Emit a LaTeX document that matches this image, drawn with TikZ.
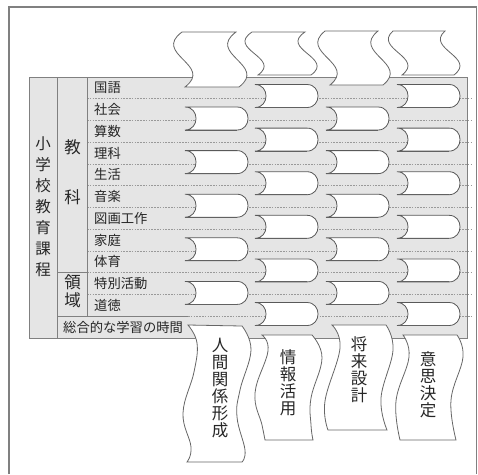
\documentclass[tikz,border=0pt]{standalone}
\usepackage{fontspec}
\newfontfamily\jp{Noto Sans CJK JP}
\newcommand\topflag[7]{%
  \pgfmathsetmacro\tfh{#4-#3}%
  \pgfmathsetmacro\tfya{#3+0.4*\tfh}%
  \pgfmathsetmacro\tfyb{#3+0.6*\tfh}%
  \pgfmathsetmacro\tfl{#1+#5}\pgfmathsetmacro\tfr{#2+#5}%
  \pgfmathsetmacro\tfla{#1+(#6)}\pgfmathsetmacro\tflb{#1+(#7)}%
  \pgfmathsetmacro\tfra{#2+(#6)}\pgfmathsetmacro\tfrb{#2+(#7)}%
  \filldraw[flag] (#1,#3) -- (#2,#3) .. controls (\tfra,\tfya) and (\tfrb,\tfyb) .. (\tfr,#4)
     -- (\tfl,#4) .. controls (\tflb,\tfyb) and (\tfla,\tfya) .. (#1,#3) -- cycle;}
\newcommand\tabshape[2]{%
  \pgfmathsetmacro\tbxa{#1}\pgfmathsetmacro\tbxb{#1+52}%
  \pgfmathsetmacro\tbya{#2}\pgfmathsetmacro\tbyb{#2+23}%
  \filldraw[tabbox] (\tbxa,\tbya) -- (\tbxb,\tbya) .. controls +(14.7,0) and +(14.7,0) .. (\tbxb,\tbyb)
     -- (\tbxa,\tbyb) .. controls +(14.7,0) and +(14.7,0) .. (\tbxa,\tbya) -- cycle;
  \draw[tabshadow] (\tbxa,\tbyb) -- (\tbxb,\tbyb);}
\begin{document}
\begin{tikzpicture}[x=1pt,y=-1pt,
  frame/.style={draw=black!50, line width=1.1pt},
  panel/.style={fill=black!10},
  cell/.style={draw=black!50, line width=0.7pt},
  rowline/.style={draw=black!40, line width=0.6pt, dash pattern=on 1.6pt off 1.2pt},
  tabbox/.style={fill=white, draw=black!65, line width=0.8pt},
  tabshadow/.style={draw=black!62, line width=1.0pt},
  flag/.style={fill=white, draw=black!60, line width=0.8pt},
  lab/.style={font=\jp\fontsize{13.3}{14}\selectfont, anchor=west, inner sep=0, text=black!85},
  bigA/.style={font=\jp\fontsize{15.5}{21}\selectfont, align=center, inner sep=0, text=black!85},
  bigB/.style={font=\jp\fontsize{16.5}{18}\selectfont, inner sep=0, text=black!85},
  vlab/.style={font=\jp\fontsize{16.5}{17}\selectfont, align=center, inner sep=0, text=black!85},
]
\useasboundingbox (0,0) rectangle (478,474);
\draw[frame] (9,474) -- (9,7) -- (476.5,7) -- (476.5,474);
% panel
\fill[panel] (29,77) rectangle (467,338);
\foreach \k in {1,...,10}{\draw[rowline] (87,{77+21.75*\k}) -- (471,{77+21.75*\k});}
\draw[rowline] (188,316.25) -- (471,316.25);
\draw[cell] (57,316.25) -- (188,316.25);
\draw[cell] (57,272.75) -- (87,272.75);
\draw[cell] (57,77) -- (57,338);
\draw[cell] (87,77) -- (87,316.25);
\draw[cell] (29,77) rectangle (467,338);
% left labels
\node[bigA] (kyoiku) at (43,207) {小\\学\\校\\教\\育\\課\\程};
\node[bigB] (k1) at (72.5,147) {教};
\node[bigB] (k2) at (72.5,197) {科};
\node[bigB] (r1) at (72.5,282) {領};
\node[bigB] (r2) at (72.5,300) {域};
\foreach \s [count=\i from 0] in {国語,社会,算数,理科,生活,音楽,図画工作,家庭,体育,特別活動,道徳}
  {\node[lab] (s\i) at (94,{77+21.75*(\i+0.5)}) {\s};}
\node[lab] (sogo) at (63,327.1) {総合的な学習の時間};
% top flags
\topflag{182}{236}{32}{87}{3}{-30}{32}
\topflag{252}{305}{32}{75}{6}{-26}{30}
\topflag{325}{378}{31}{85}{5}{-27}{32}
\topflag{393}{445}{31}{75}{9}{-20}{32}
% tabs
\foreach \k in {0,...,4}{\tabshape{185}{107+43.6*\k}\tabshape{326}{107+43.6*\k}}
\foreach \k in {0,...,5}{\tabshape{255}{84.5+43.6*\k}\tabshape{397}{84.5+43.6*\k}}
% bottom flags
\filldraw[flag] plot[smooth,tension=0.7] coordinates {(188,325) (197,343) (194,372) (183,413) (191,447) (187,462)}
  -- plot[smooth,tension=0.7] coordinates {(242,462) (245,450) (237,417) (240,390) (251,350) (242,326)} -- cycle;
\filldraw[flag] plot[smooth,tension=0.7] coordinates {(262,335) (268,351) (255,393) (262,425) (265,440)}
  -- plot[smooth,tension=0.7] coordinates {(313,440) (311,425) (311,398) (322,358) (312,335)} -- cycle;
\filldraw[flag] plot[smooth,tension=0.7] coordinates {(332,325) (340,348) (325,401) (328,430)}
  -- plot[smooth,tension=0.7] coordinates {(387,430) (381,398) (393,350) (386,325)} -- cycle;
\filldraw[flag] plot[smooth,tension=0.7] coordinates {(403,335) (409,357) (396,401) (400,440)}
  -- plot[smooth,tension=0.7] coordinates {(456,440) (451,400) (463,357) (457,335)} -- cycle;
\node[vlab] (f1) at (220,388) {人\\間\\関\\係\\形\\成};
\node[vlab] (f2) at (288,383) {情\\報\\活\\用};
\node[vlab] (f3) at (359,370) {将\\来\\設\\計};
\node[vlab] (f4) at (428,385) {意\\思\\決\\定};
\end{tikzpicture}
\end{document}
